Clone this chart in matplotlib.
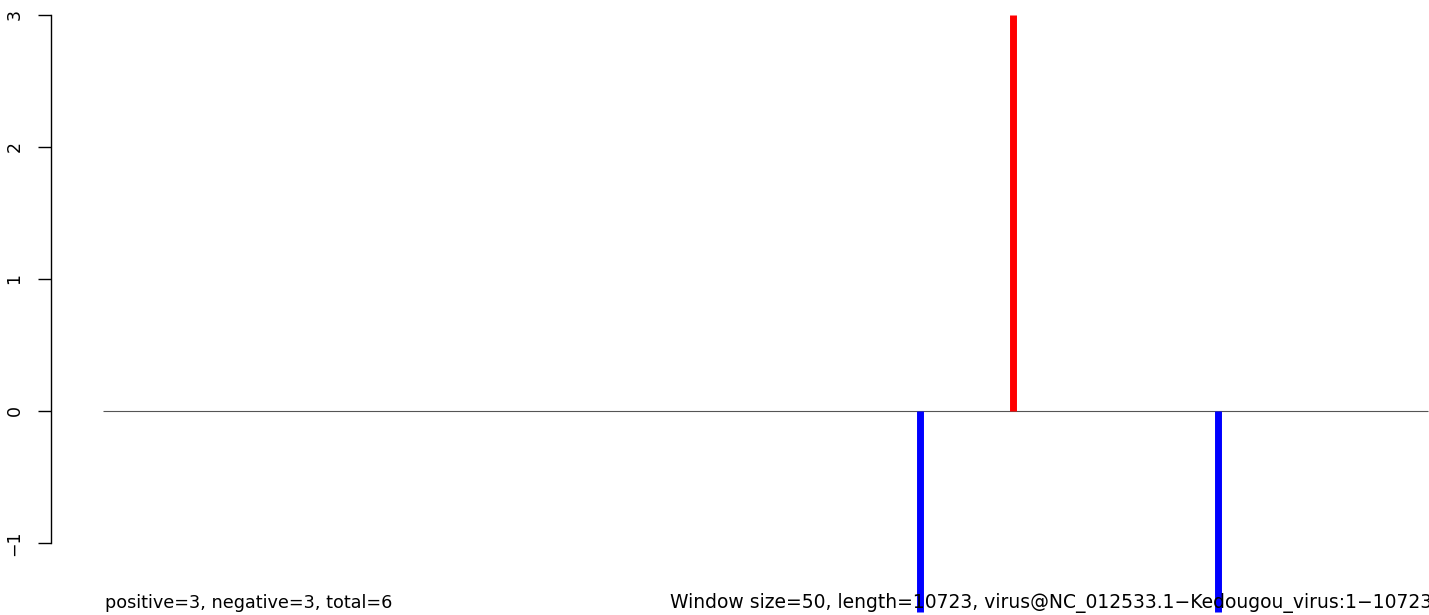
import numpy as np
import matplotlib
matplotlib.use("Agg")
import matplotlib.pyplot as plt

# reference text looks stretched sideways; DejaVu Sans is close in width and height
plt.rcParams['font.family'] = ['DejaVu Sans']

# sequence / window info
seq_length = 10723
window_size = 50
seq_name = "virus@NC_012533.1\u2212Kedougou_virus:1\u221210723"

# hit positions and scores
pos_x = [7365]
pos_y = [3]
neg_x = [6612, 9025]
neg_y = [-1.52, -1.52]

yticks = [-1, 0, 1, 2, 3]

W, H = 1429, 615
fig = plt.figure(figsize=(W / 100, H / 100), dpi=100)
ax = fig.add_axes([0, 0, 1, 1])

# pixel mapping taken from the reference layout
ux = seq_length / 1325.0
ax.set_xlim(-103 * ux, (W - 103) * ux)
uy = 132.0
ax.set_ylim(-(H - 411) / uy, 411 / uy)

ax.hlines(0, 0, seq_length, color='#555555', lw=0.8, zorder=1)
ax.vlines(pos_x, 0, pos_y, color='red', lw=5, capstyle='butt', zorder=3)
ax.vlines(neg_x, 0, neg_y, color='blue', lw=5, capstyle='butt', zorder=3)

for s in ['top', 'right', 'bottom']:
    ax.spines[s].set_visible(False)
ax.spines['left'].set_position(('axes', 50.5 / W))
ax.spines['left'].set_bounds(-1, 3)
ax.spines['left'].set_linewidth(1.0)
ax.set_xticks([])
ax.set_yticks(yticks)
ax.set_yticklabels([str(t).replace('-', '\u2212') for t in yticks],
                   rotation=90, va='center', fontsize=12.5)
ax.tick_params(axis='y', length=9.4, width=1.0, pad=10)
ax.patch.set_alpha(0)

fig.text(105 / W, 7 / H, "positive=%d, negative=%d, total=%d" % (3, 3, 6),
         fontsize=12.7, va='baseline', ha='left', zorder=0)
fig.text(670 / W, 7 / H, "Window size=%d, length=%d, %s" % (window_size, seq_length, seq_name),
         fontsize=13.5, va='baseline', ha='left', zorder=0)

fig.savefig("out.png", dpi=100)
